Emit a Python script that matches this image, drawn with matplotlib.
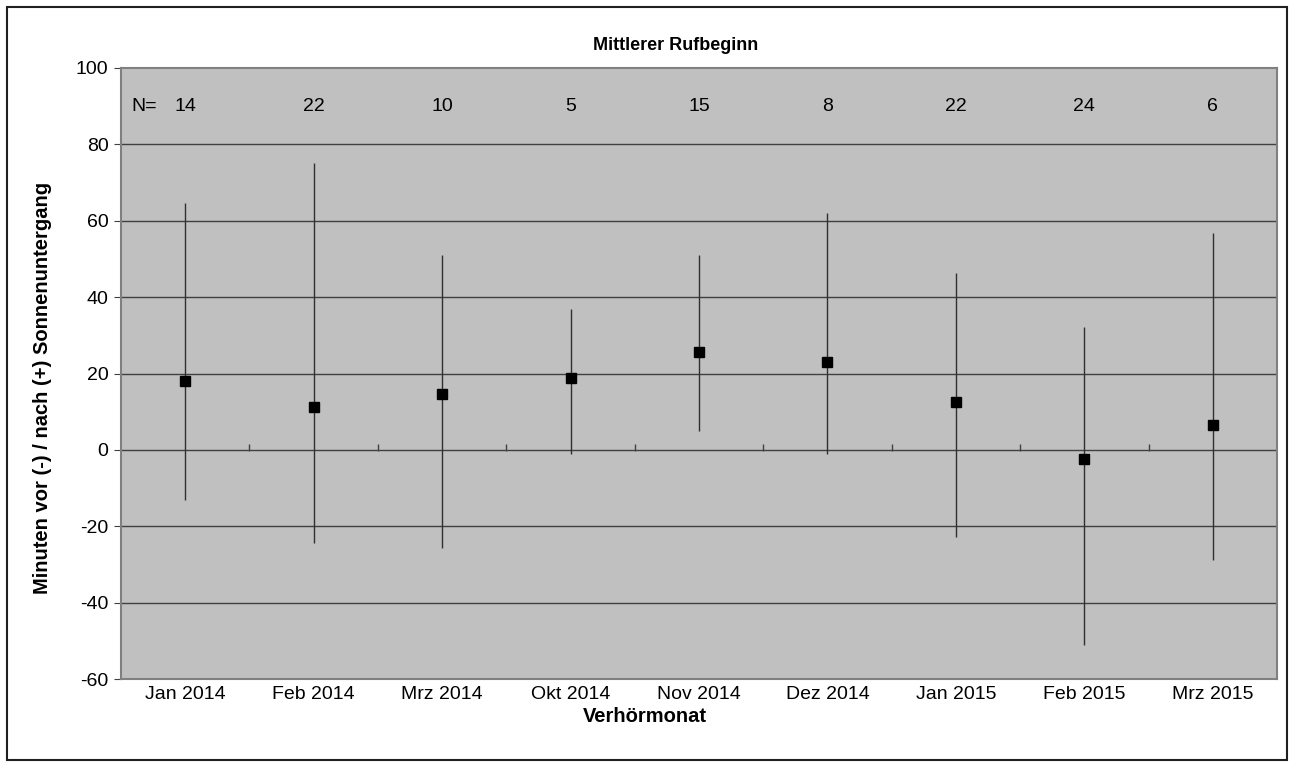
import matplotlib
matplotlib.use("Agg")
import matplotlib.pyplot as plt
from matplotlib.patches import Rectangle
import numpy as np

plt.rcParams['font.family'] = ['Liberation Sans', 'DejaVu Sans']
plt.rcParams['axes.unicode_minus'] = False

months = ["Jan 2014", "Feb 2014", "Mrz 2014", "Okt 2014", "Nov 2014",
          "Dez 2014", "Jan 2015", "Feb 2015", "Mrz 2015"]
n_calls = [14, 22, 10, 5, 15, 8, 22, 24, 6]
mean_start = [18.1, 11.1, 14.7, 18.8, 25.6, 23.1, 12.6, -2.4, 6.4]
upper = [64.6, 75.0, 51.0, 37.0, 51.0, 62.1, 46.2, 32.3, 56.7]
lower = [-13.1, -24.4, -25.7, -1.0, 5.0, -1.0, -22.7, -51.0, -28.8]

fig = plt.figure(figsize=(12.92, 7.67), dpi=100)
ax = fig.add_axes([121/1292, 1-679/767, (1277-121)/1292, (679-68)/767])
ax.set_facecolor("#c0c0c0")

x = np.arange(len(months))
ax.set_xlim(-0.5, len(months) - 0.5)
ax.set_ylim(-60, 100)
ax.set_yticks(np.arange(-60, 101, 20))
for yv in np.arange(-40, 100, 20):
    ax.axhline(yv, color="#404040", lw=1.0, zorder=1)

# x axis crosses at zero: small ticks at category boundaries
bounds = np.arange(0.5, len(months) - 0.5, 1.0)
ax.vlines(bounds, -0.4, 1.6, color="#404040", lw=1.0, zorder=2)

ax.vlines(x, lower, upper, color="#303030", lw=1.0, zorder=3)
ax.plot(x, mean_start, ls="none", marker="s", ms=6.5, color="black", zorder=4)

ax.text(0.009, 90, "N=", fontsize=14, va="center", ha="left",
        transform=ax.get_yaxis_transform())
for xi, n in zip(x, n_calls):
    ax.text(xi, 90, str(n), fontsize=14, va="center", ha="center")

ax.set_xticks(x)
ax.set_xticklabels(months, fontsize=14)
ax.tick_params(axis="x", length=0, pad=5)
ax.tick_params(axis="y", labelsize=14, length=5, color="#404040", pad=4)
for s in ax.spines.values():
    s.set_color("#808080")
    s.set_linewidth(1.5)

fig.text(645/1292, 1-716/767, "Verhörmonat", fontsize=14.5,
         fontweight="bold", ha="center", va="center")
fig.text(43/1292, 1-388/767, "Minuten vor (-) / nach (+) Sonnenuntergang",
         fontsize=14.5, fontweight="bold", ha="center", va="center",
         rotation=90)
fig.text(676/1292, 1-46/767, "Mittlerer Rufbeginn", fontsize=13,
         fontweight="bold", ha="center", va="center")

fig.patches.append(Rectangle((7/1292, 1-760/767), 1280/1292, 753/767,
                             transform=fig.transFigure, fill=False,
                             edgecolor="#202020", lw=1.5))

fig.savefig("out.png", dpi=100)
